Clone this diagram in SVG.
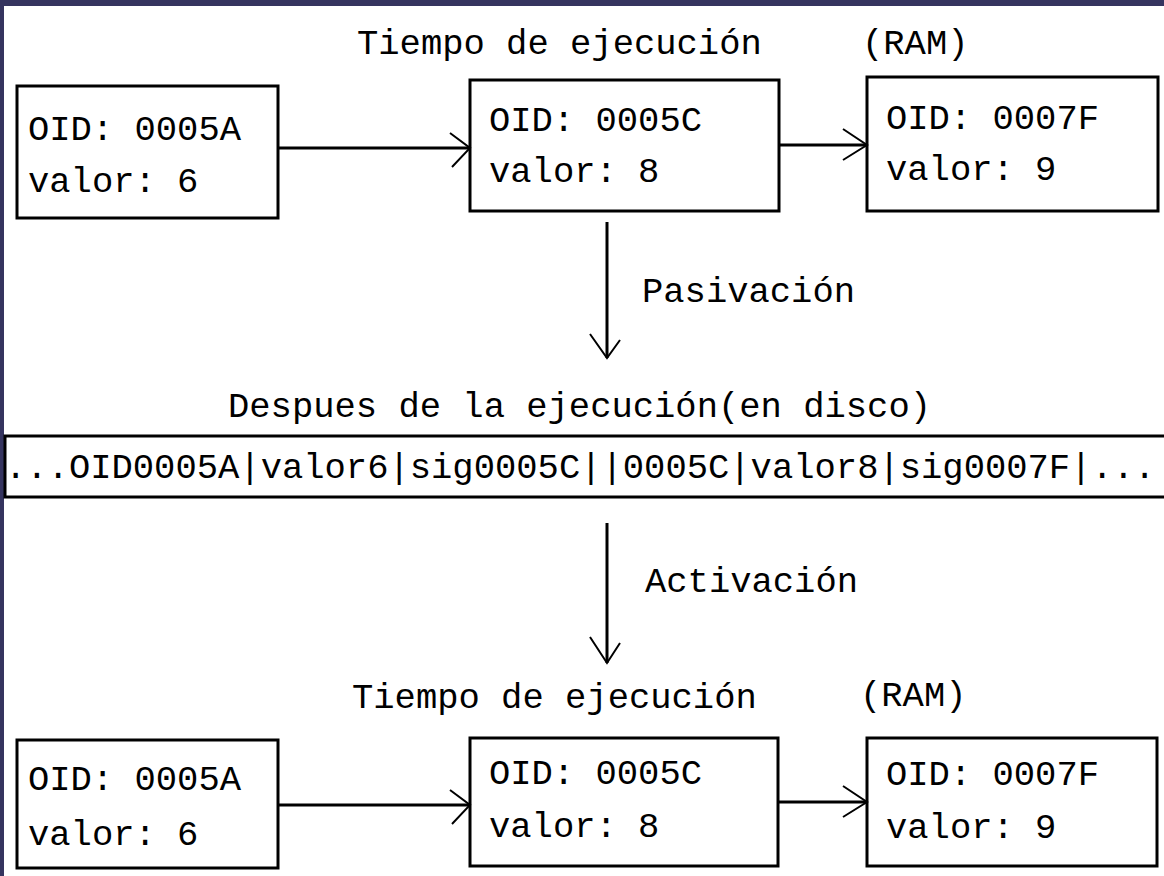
<svg xmlns="http://www.w3.org/2000/svg" width="1164" height="876" viewBox="0 0 1164 876">
  <style>
    .bg { fill: #ffffff; }
    .frame { fill: #35345f; }
    .box { fill: #ffffff; stroke: #000000; stroke-width: 3; }
    .t { font-family: "Liberation Mono", "DejaVu Sans Mono", monospace; font-size: 35.5px; fill: #000000; }
    .line { stroke: #000000; stroke-width: 3; fill: none; }
    .head { stroke: #000000; stroke-width: 2; fill: none; }
  </style>

  <rect class="bg" x="0" y="0" width="1164" height="876"/>
  <!-- window frame -->
  <rect class="frame" x="0" y="0" width="1164" height="6"/>
  <rect class="frame" x="0" y="0" width="4" height="876"/>

  <!-- headings -->
  <g id="titles">
    <text class="t" x="357" y="54">Tiempo de ejecución</text>
    <text class="t" x="862" y="54">(RAM)</text>
    <text class="t" x="228" y="417">Despues de la ejecución(en disco)</text>
    <text class="t" x="352" y="708">Tiempo de ejecución</text>
    <text class="t" x="860" y="706">(RAM)</text>
  </g>

  <!-- objects in memory, before passivation -->
  <g id="top-0005A">
    <rect class="box" x="17" y="86" width="261" height="132"/>
    <text class="t" x="28" y="140">OID: 0005A</text>
    <text class="t" x="28" y="192">valor: 6</text>
  </g>
  <g id="top-0005C">
    <rect class="box" x="470" y="80" width="309" height="131"/>
    <text class="t" x="489" y="131">OID: 0005C</text>
    <text class="t" x="489" y="182">valor: 8</text>
  </g>
  <g id="top-0007F">
    <rect class="box" x="867" y="77" width="291" height="134"/>
    <text class="t" x="886" y="129">OID: 0007F</text>
    <text class="t" x="886" y="180">valor: 9</text>
  </g>

  <!-- serialized record on disk -->
  <g id="disk">
    <rect class="box" x="5" y="436" width="1170" height="61"/>
    <text class="t" x="5" y="478">...OID0005A|valor6|sig0005C||0005C|valor8|sig0007F|...</text>
  </g>

  <!-- objects in memory, after activation -->
  <g id="bottom-0005A">
    <rect class="box" x="17" y="740" width="261" height="128"/>
    <text class="t" x="28" y="790">OID: 0005A</text>
    <text class="t" x="28" y="845">valor: 6</text>
  </g>
  <g id="bottom-0005C">
    <rect class="box" x="470" y="738" width="308" height="128"/>
    <text class="t" x="489" y="784">OID: 0005C</text>
    <text class="t" x="489" y="837">valor: 8</text>
  </g>
  <g id="bottom-0007F">
    <rect class="box" x="867" y="738" width="290" height="128"/>
    <text class="t" x="886" y="785">OID: 0007F</text>
    <text class="t" x="886" y="838">valor: 9</text>
  </g>

  <!-- connectors -->
  <g id="connectors">
    <line class="line" x1="278" y1="148" x2="470" y2="148"/>
    <polyline class="head" points="450,133 470,148 452,167"/>
    <line class="line" x1="779" y1="145" x2="867" y2="145"/>
    <polyline class="head" points="843,129 867,145 843,160"/>

    <line class="line" x1="607" y1="222" x2="607" y2="358"/>
    <polyline class="head" points="590,334 607,358 620,340"/>
    <text class="t" x="642" y="302">Pasivación</text>

    <line class="line" x1="607" y1="523" x2="607" y2="663"/>
    <polyline class="head" points="590,637 607,663 620,643"/>
    <text class="t" x="645" y="592">Activación</text>

    <line class="line" x1="278" y1="805" x2="470" y2="805"/>
    <polyline class="head" points="450,790 470,805 452,824"/>
    <line class="line" x1="778" y1="802" x2="867" y2="802"/>
    <polyline class="head" points="843,786 867,802 843,817"/>
  </g>
</svg>
